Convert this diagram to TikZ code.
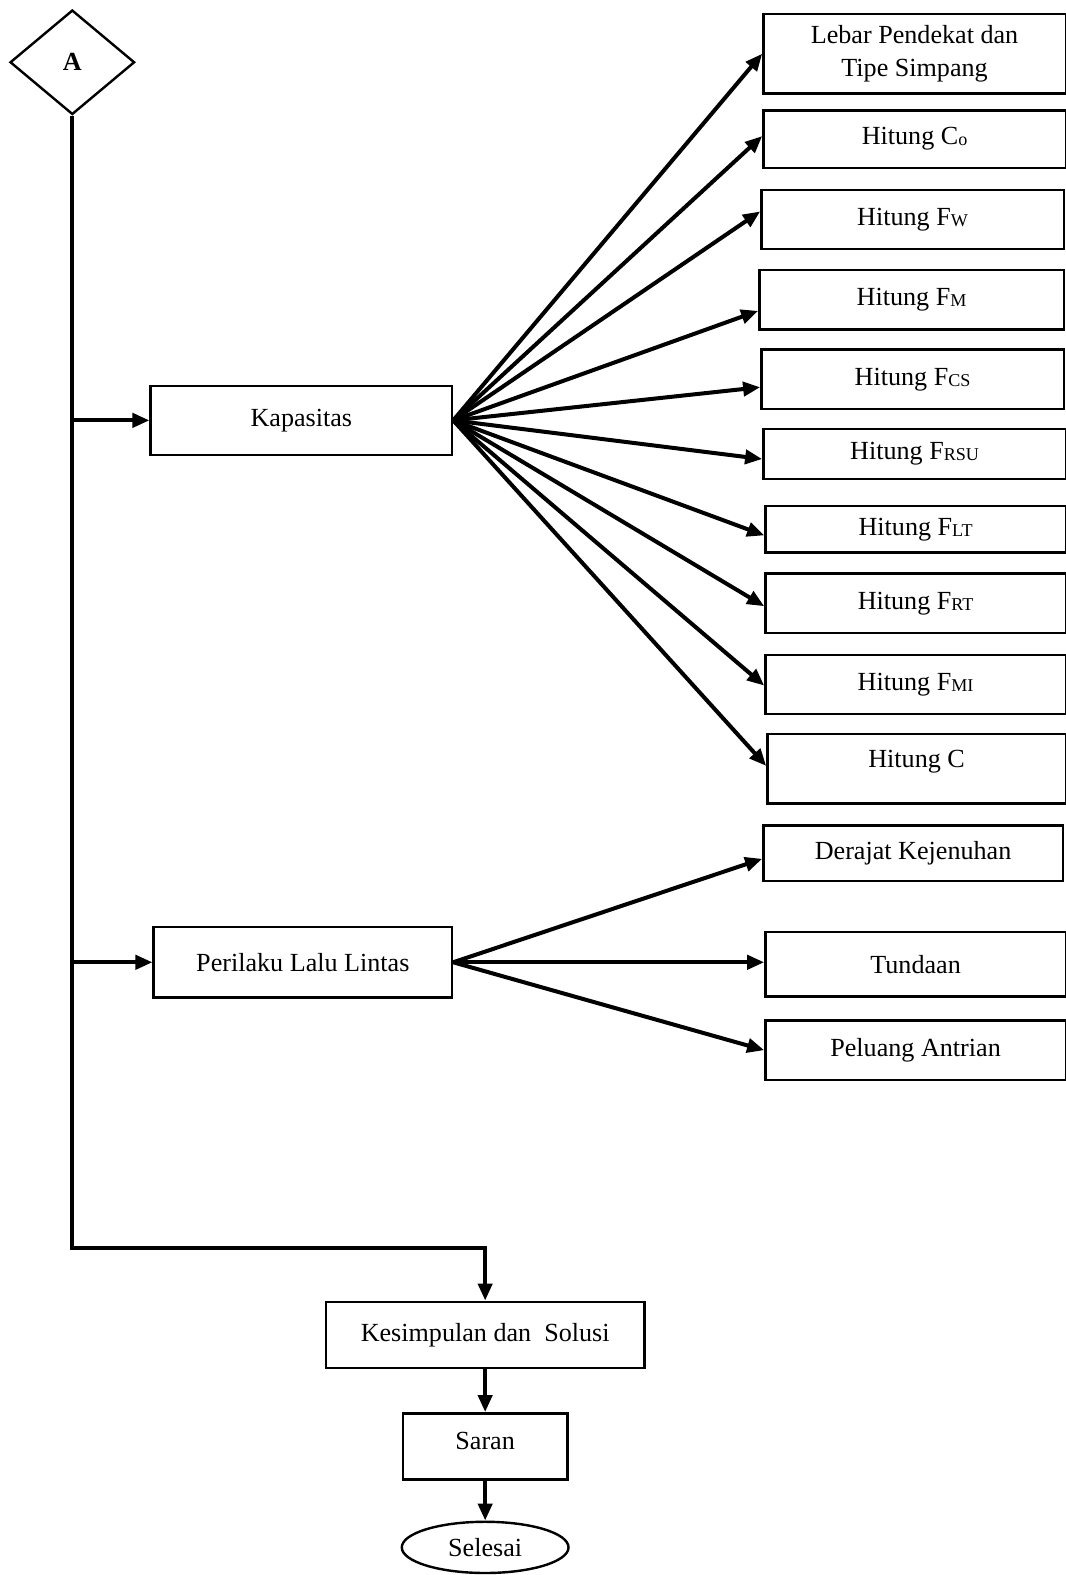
\documentclass[tikz,border=0pt]{standalone}
\usepackage{fontspec}
\setmainfont{Liberation Serif}
\usetikzlibrary{shapes.geometric,arrows.meta}

\newcommand{\smsub}[1]{\raisebox{-0.5pt}{\fontsize{9}{10}\selectfont #1}}

\begin{document}
\begin{tikzpicture}[x=0.5pt,y=-0.5pt,
    font=\fontsize{13}{16}\selectfont,
    box/.style={rectangle,draw,line width=1.2pt,inner sep=2pt,minimum width=150.5pt,minimum height=29.5pt},
    arr/.style={line width=2pt,-{Triangle[length=8.5pt,width=7pt]}}]

  \useasboundingbox (0,0) rectangle (1061,1568);

  \node[diamond,draw,line width=1.2pt,inner sep=0pt,minimum width=62pt,minimum height=52pt,
        font={\fontsize{13}{16}\selectfont\bfseries}] (a) at (72,62) {A};

  \begin{scope}[every node/.style={box}]
    \node[minimum width=150pt,minimum height=34.5pt] (kap) at (300,418.5) {Kapasitas};
    \node[minimum width=148.5pt,minimum height=35pt] (per) at (301.5,958) {Perilaku Lalu Lintas};

    \node[minimum height=39.5pt,align=center] (lebar) at (910.5,53.5) {Lebar Pendekat dan\\Tipe Simpang};
    \node[minimum height=28.5pt] (co)   at (910.5,138.5) {Hitung C\smsub{o}};
    \node (fw)   at (908.5,218.5) {Hitung F\smsub{W}};
    \node[minimum width=151.5pt] (fm) at (907.5,298.5) {Hitung F\smsub{M}};
    \node (fcs)  at (908.5,377.5) {Hitung F\smsub{CS}};
    \node[minimum height=25pt] (frsu) at (910.5,452) {Hitung F\smsub{RSU}};
    \node[minimum width=149.5pt,minimum height=23pt] (flt) at (911.5,527) {Hitung F\smsub{LT}};
    \node[minimum width=149.5pt] (frt)  at (911.5,600.5) {Hitung F\smsub{RT}};
    \node[minimum width=149.5pt] (fmi)  at (911.5,681.5) {Hitung F\smsub{MI}};
    \node[minimum width=148.5pt,minimum height=34.5pt,text depth=10pt] (hc) at (912.5,765.5) {Hitung C};

    \node[minimum width=149pt,minimum height=27.5pt] (dj) at (909,849.5) {Derajat Kejenuhan};
    \node[minimum width=149.5pt,minimum height=32pt] (td) at (911.5,960) {Tundaan};
    \node[minimum width=149.5pt] (pa) at (911.5,1045.5) {Peluang Antrian};

    \node[minimum width=158.5pt,minimum height=33pt] (kes) at (483,1329) {Kesimpulan dan\ \ Solusi};
    \node[minimum width=82pt,minimum height=33pt,text depth=6pt] (saran) at (483,1440) {Saran};
  \end{scope}

  \node[ellipse,draw,line width=1.2pt,inner sep=0pt,minimum width=83pt,minimum height=25.5pt] (end) at (483,1540.5) {Selesai};

  % alur utama
  \coordinate (turn) at (72,1242);
  \draw[arr] (a.south) |- (turn) -| (kes.north);
  \draw[arr] (a.south |- kap.west) -- (kap.west);
  \draw[arr] (a.south |- per.west) -- (per.west);
  \draw[arr] (kes.south) -- (saran.north);
  \draw[arr] (saran.south) -- (end.north);

  \begin{scope}[every edge/.style={draw,arr}]
    \path (kap.east) edge (lebar.west);
    \path (kap.east) edge ([yshift=1.5pt]co.west);
    \path (kap.east) edge ([yshift=4pt]fw.west);
    \path (kap.east) edge ([yshift=-5.5pt]fm.west);
    \path (kap.east) edge ([yshift=-4pt]fcs.west);
    \path (kap.east) edge ([yshift=-2.5pt]frsu.west);
    \path (kap.east) edge ([yshift=-3pt]flt.west);
    \path (kap.east) edge ([yshift=-1.5pt]frt.west);
    \path (kap.east) edge ([yshift=-0.5pt]fmi.west);
    \path (kap.east) edge ([yshift=1.5pt]hc.west);

    \path (per.east) edge ([yshift=-2.75pt]dj.west);
    \path (per.east) edge (per.east -| td.west);
    \path (per.east) edge (pa.west);
  \end{scope}

\end{tikzpicture}
\end{document}
